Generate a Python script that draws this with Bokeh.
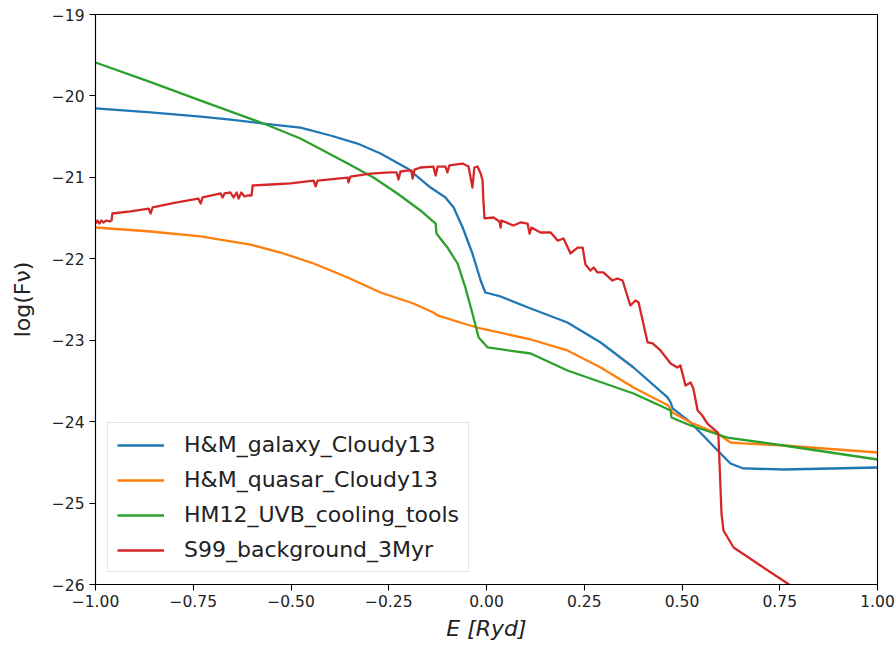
from bokeh.plotting import figure
from bokeh.models import (ColumnDataSource, FixedTicker, CustomJSTickFormatter,
                          Legend, LegendItem, Range1d)
from bokeh.embed import file_html
from bokeh.resources import INLINE

FONT = "DejaVu Sans"

# ---- spectra: E [Ryd] (log scale offset) vs log(F_nu) ----
galaxy_E = [-1.000, -0.859, -0.731, -0.655, -0.570, -0.476, -0.399, -0.330, -0.271, -0.202,
            -0.143, -0.105, -0.084, -0.061, -0.036, -0.015, -0.003, 0.036, 0.113, 0.207,
            0.292, 0.376, 0.463, 0.471, 0.476, 0.522, 0.591, 0.624, 0.657, 0.760, 1.000]
galaxy_F = [-20.154, -20.203, -20.253, -20.290, -20.339, -20.388, -20.486, -20.585, -20.707,
            -20.891, -21.125, -21.247, -21.370, -21.616, -21.935, -22.267, -22.414, -22.463,
            -22.610, -22.782, -23.028, -23.335, -23.703, -23.765, -23.838, -24.010, -24.354,
            -24.514, -24.575, -24.588, -24.563]

quasar_E = [-1.000, -0.859, -0.731, -0.604, -0.527, -0.442, -0.355, -0.271, -0.187,
            -0.136, -0.125, -0.059, -0.015, 0.113, 0.207, 0.292, 0.376, 0.465, 0.476,
            0.522, 0.591, 0.624, 0.657, 0.760, 1.000]
quasar_F = [-21.616, -21.665, -21.726, -21.825, -21.923, -22.058, -22.230, -22.414, -22.549,
            -22.660, -22.696, -22.795, -22.856, -22.991, -23.126, -23.335, -23.581, -23.802,
            -23.888, -24.010, -24.146, -24.256, -24.268, -24.293, -24.379]

hm12_E = [-1.000, -0.859, -0.731, -0.570, -0.476, -0.442, -0.355, -0.289, -0.228,
          -0.169, -0.130, -0.128, -0.100, -0.074, -0.054, -0.036, -0.020, 0.003, 0.113,
          0.207, 0.376, 0.471, 0.473, 0.522, 0.616, 0.760, 1.000]
hm12_F = [-19.589, -19.830, -20.057, -20.339, -20.523, -20.609, -20.830, -21.002, -21.198,
          -21.407, -21.567, -21.689, -21.861, -22.058, -22.353, -22.672, -22.967, -23.089,
          -23.163, -23.372, -23.654, -23.863, -23.949, -24.047, -24.195, -24.293, -24.465]

s99_E = [-1.000, -0.995, -0.990, -0.985, -0.980, -0.972, -0.964, -0.959, -0.957, -0.910,
         -0.864, -0.859, -0.854, -0.795, -0.737, -0.731, -0.726, -0.680, -0.675, -0.670,
         -0.655, -0.647, -0.639, -0.634, -0.627, -0.619, -0.611, -0.601, -0.598, -0.552,
         -0.501, -0.442, -0.437, -0.432, -0.355, -0.353, -0.348, -0.297, -0.246, -0.230,
         -0.225, -0.220, -0.202, -0.192, -0.189, -0.184, -0.169, -0.136, -0.130, -0.125,
         -0.105, -0.100, -0.095, -0.061, -0.046, -0.036, -0.031, -0.023, -0.015, -0.010,
         -0.008, -0.005, 0.018, 0.033, 0.036, 0.038, 0.069, 0.087, 0.105, 0.110,
         0.115, 0.138, 0.164, 0.182, 0.197, 0.215, 0.233, 0.246, 0.253, 0.266,
         0.274, 0.284, 0.299, 0.322, 0.335, 0.348, 0.368, 0.381, 0.389, 0.412,
         0.425, 0.445, 0.471, 0.488, 0.496, 0.509, 0.522, 0.529, 0.540, 0.552,
         0.565, 0.591, 0.593, 0.596, 0.601, 0.606, 0.632, 0.693, 0.770, 0.849]
s99_F = [-21.567, -21.530, -21.567, -21.530, -21.554, -21.530, -21.542, -21.530, -21.444, -21.419,
         -21.383, -21.444, -21.370, -21.309, -21.260, -21.321, -21.247, -21.198, -21.247, -21.198,
         -21.186, -21.247, -21.186, -21.260, -21.186, -21.235, -21.223, -21.223, -21.100, -21.088,
         -21.075, -21.039, -21.112, -21.039, -21.002, -21.063, -20.990, -20.953, -20.940, -20.940,
         -21.026, -20.928, -20.916, -20.916, -21.014, -20.904, -20.879, -20.867, -20.977, -20.867,
         -20.867, -20.940, -20.854, -20.830, -20.867, -21.125, -20.879, -20.867, -20.953, -21.039,
         -21.284, -21.505, -21.493, -21.542, -21.616, -21.530, -21.591, -21.554, -21.567, -21.690,
         -21.616, -21.677, -21.677, -21.776, -21.751, -21.935, -21.862, -21.862, -22.070, -22.144,
         -22.107, -22.168, -22.168, -22.267, -22.242, -22.267, -22.574, -22.512, -22.537, -23.028,
         -23.040, -23.126, -23.286, -23.335, -23.311, -23.556, -23.519, -23.593, -23.863, -23.925,
         -24.023, -24.133, -24.158, -24.514, -25.128, -25.337, -25.546, -25.742, -25.988, -26.246]

series_names = ["H&M_galaxy_Cloudy13", "H&M_quasar_Cloudy13",
                "HM12_UVB_cooling_tools", "S99_background_3Myr"]
series_colors = ["#1f77b4", "#ff7f0e", "#2ca02c", "#d62728"]

x_ticks = [-1.0, -0.75, -0.5, -0.25, 0.0, 0.25, 0.5, 0.75, 1.0]
y_ticks = [-26, -25, -24, -23, -22, -21, -20, -19]

p = figure(width=896, height=646, output_backend="svg", toolbar_location=None,
           x_range=Range1d(-1.0, 1.0), y_range=Range1d(-26.0, -19.0),
           min_border_left=95, min_border_right=19, min_border_top=14,
           min_border_bottom=62)
p.background_fill_color = "white"
p.border_fill_color = "white"
p.xgrid.visible = False
p.ygrid.visible = False
p.outline_line_color = "black"
p.outline_line_width = 1.1

p.xaxis.ticker = FixedTicker(ticks=x_ticks)
p.yaxis.ticker = FixedTicker(ticks=y_ticks)
p.xaxis.formatter = CustomJSTickFormatter(
    code="return (tick < 0 ? '\u2212' : '') + Math.abs(tick).toFixed(2);")
p.yaxis.formatter = CustomJSTickFormatter(
    code="return (tick < 0 ? '\u2212' : '') + Math.abs(tick).toFixed(0);")
for ax in (p.xaxis, p.yaxis):
    ax.axis_line_color = "black"
    ax.axis_line_width = 1.1
    ax.major_tick_line_color = "black"
    ax.major_tick_line_width = 1.1
    ax.major_tick_out = 6
    ax.major_tick_in = 0
    ax.minor_tick_line_color = None
    ax.major_label_text_font = FONT
    ax.major_label_text_font_size = "15.5px"
    ax.major_label_text_color = "#222222"
    ax.axis_label_text_font = FONT
    ax.axis_label_text_font_size = "22px"
    ax.axis_label_text_color = "#222222"
p.xaxis.major_label_standoff = 4
p.yaxis.major_label_standoff = 5

p.xaxis.axis_label = "E [Ryd]"
p.xaxis.axis_label_text_font_style = "italic"
p.xaxis.axis_label_standoff = 6
p.yaxis.axis_label = "log(F\u03bd)"
p.yaxis.axis_label_text_font_style = "normal"
p.yaxis.axis_label_standoff = 14

renderers = []
for E, F, c in [(galaxy_E, galaxy_F, series_colors[0]),
                (quasar_E, quasar_F, series_colors[1]),
                (hm12_E, hm12_F, series_colors[2]),
                (s99_E, s99_F, series_colors[3])]:
    src = ColumnDataSource(dict(E=E, F=F))
    r = p.line("E", "F", source=src, line_color=c, line_width=2.3,
               line_join="round")
    renderers.append(r)

legend = Legend(items=[LegendItem(label=n, renderers=[r])
                       for n, r in zip(series_names, renderers)],
                location=(12, 12), orientation="vertical")
legend.label_text_font = FONT
legend.label_text_font_size = "22px"
legend.label_text_color = "#222222"
legend.glyph_width = 47
legend.glyph_height = 24
legend.label_height = 24
legend.label_standoff = 20
legend.spacing = 10
legend.padding = 9
legend.margin = 0
legend.border_line_color = "#cccccc"
legend.border_line_width = 1
legend.background_fill_color = "white"
legend.background_fill_alpha = 0.8
p.add_layout(legend, "center")

open("out.html", "w").write(file_html(p, INLINE))
